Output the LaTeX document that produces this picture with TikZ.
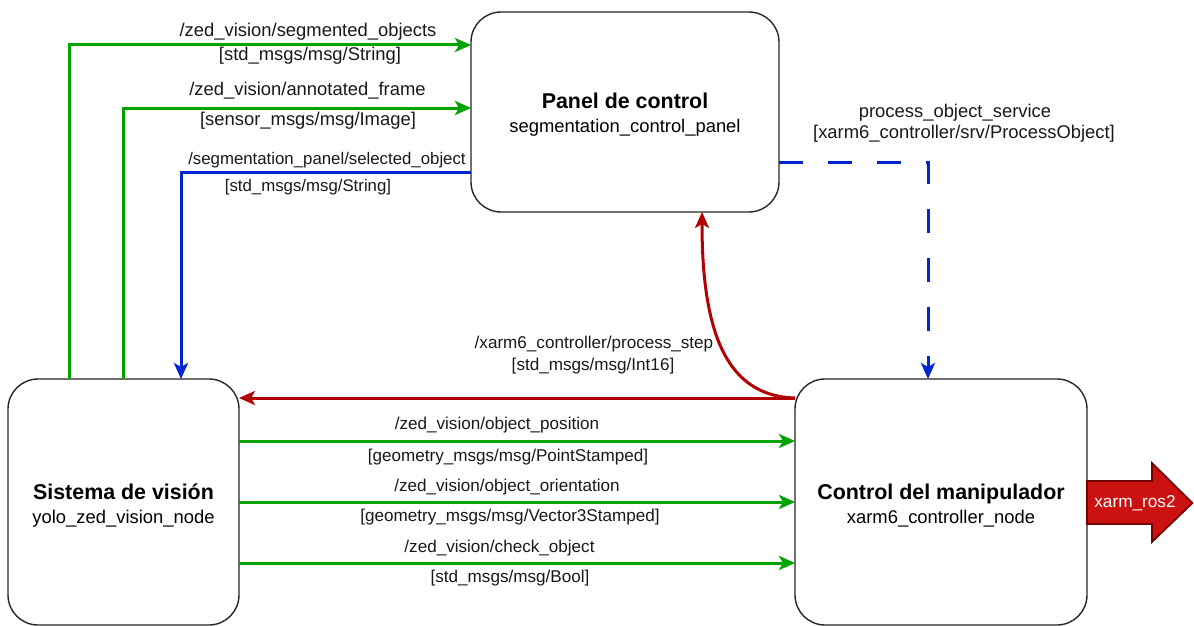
\documentclass[tikz,border=0pt]{standalone}
\usepackage{fontspec}
\setmainfont{Liberation Sans}
\usetikzlibrary{arrows.meta}

\definecolor{topicgreen}{HTML}{00A300}
\definecolor{srvblue}{HTML}{0026D0}
\definecolor{stepred}{HTML}{B30000}
\definecolor{rosfill}{HTML}{CC1111}
\definecolor{rosedge}{HTML}{700000}

\begin{document}
\begin{tikzpicture}[x=1pt,y=-1pt,
  every node/.style={inner sep=0pt, outer sep=0pt},
  nodebox/.style={draw=black!85, line width=1.4pt, rounded corners=30pt, fill=white},
  title/.style={align=center, font=\fontsize{18.4}{24}\selectfont},
  lbl/.style={font=\fontsize{18.4}{22}\selectfont, text=black!90, fill=white, inner sep=1pt},
  lblsm/.style={lbl, font=\fontsize{17.1}{21}\selectfont},
  lblxs/.style={lbl, font=\fontsize{16.8}{20}\selectfont},
  tip/.style={-{Stealth[length=16pt,width=14pt,inset=4pt]}},
  garrow/.style={tip, draw=topicgreen, line width=3pt},
  barrow/.style={tip, draw=srvblue, line width=3pt},
  rarrow/.style={tip, draw=stepred, line width=3pt}
]
\useasboundingbox (0,0) rectangle (1194,626);

% ROS 2 nodes
\node[nodebox, minimum width=308pt, minimum height=200pt] (pan) at (625,112) {};
\node[nodebox, minimum width=231pt, minimum height=246pt] (sis) at (123.5,502) {};
\node[nodebox, minimum width=292pt, minimum height=246pt] (ctl) at (941,502) {};

\node[title] (pant) at (625,115)
  {{\bfseries\fontsize{21.4}{24}\selectfont Panel de control}\\segmentation\_control\_panel};
\node[title] (sist) at (123.5,506)
  {{\bfseries\fontsize{21.4}{24}\selectfont Sistema de visión}\\yolo\_zed\_vision\_node};
\node[title] (ctlt) at (941,506)
  {{\bfseries\fontsize{21.4}{24}\selectfont Control del manipulador}\\xarm6\_controller\_node};

% topics from the vision system to the panel
\draw[garrow] (69,0 |- sis.north) |- (pan.west |- 0,45);
\draw[garrow] (123,0 |- sis.north) |- (pan.west |- 0,108);
\draw[barrow] (pan.west |- 0,172) -| (181,0 |- sis.north);

\node[lbl] (l1a) at (308,32) {/zed\_vision/segmented\_objects};
\node[lbl] (l1b) at (310,56) {[std\_msgs/msg/String]};
\node[lbl] (l2a) at (307.5,91) {/zed\_vision/annotated\_frame};
\node[lbl] (l2b) at (308,121) {[sensor\_msgs/msg/Image]};
\node[lblxs] (l3a) at (327,160) {/segmentation\_panel/selected\_object};
\node[lblxs] (l3b) at (308,187) {[std\_msgs/msg/String]};

% service call from the panel to the controller
\draw[barrow, dash pattern=on 24pt off 25pt] (pan.east |- 0,162) -| (928,0 |- ctl.north);
\node[lbl] (l4a) at (955,113) {process\_object\_service};
\node[lbl] (l4b) at (964,134) {[xarm6\_controller/srv/ProcessObject]};

% process step feedback
\draw[rarrow] (ctl.west |- 0,398) -- (sis.east |- 0,398);
\draw[rarrow] (ctl.west |- 0,398) .. controls (725,396) and (702,330) .. (702,0 |- pan.south);
\node[lblsm] (l5a) at (594,344) {/xarm6\_controller/process\_step};
\node[lblsm] (l5b) at (593,366) {[std\_msgs/msg/Int16]};

% topics from the vision system to the controller
\draw[garrow] (sis.east |- 0,441) -- (ctl.west |- 0,441);
\draw[garrow] (sis.east |- 0,502) -- (ctl.west |- 0,502);
\draw[garrow] (sis.east |- 0,563) -- (ctl.west |- 0,563);
\node[lblsm] (l6a) at (497,425) {/zed\_vision/object\_position};
\node[lblsm] (l6b) at (508,457) {[geometry\_msgs/msg/PointStamped]};
\node[lblsm] (l7a) at (507,487) {/zed\_vision/object\_orientation};
\node[lblsm] (l7b) at (510,517) {[geometry\_msgs/msg/Vector3Stamped]};
\node[lblsm] (l8a) at (499.5,548) {/zed\_vision/check\_object};
\node[lblsm] (l8b) at (510,578) {[std\_msgs/msg/Bool]};

% hand-off to xarm_ros2
\draw[fill=rosfill, draw=rosedge, line width=1.6pt, line join=miter]
  (ctl.east |- 0,481) -- (1152,481) -- (1152,463) -- (1192.5,503) -- (1152,542)
  -- (1152,524) -- (ctl.east |- 0,524) -- cycle;
\node[font=\fontsize{17.2}{20}\selectfont, text=white] (ros) at (1135,503) {xarm\_ros2};
\end{tikzpicture}
\end{document}
